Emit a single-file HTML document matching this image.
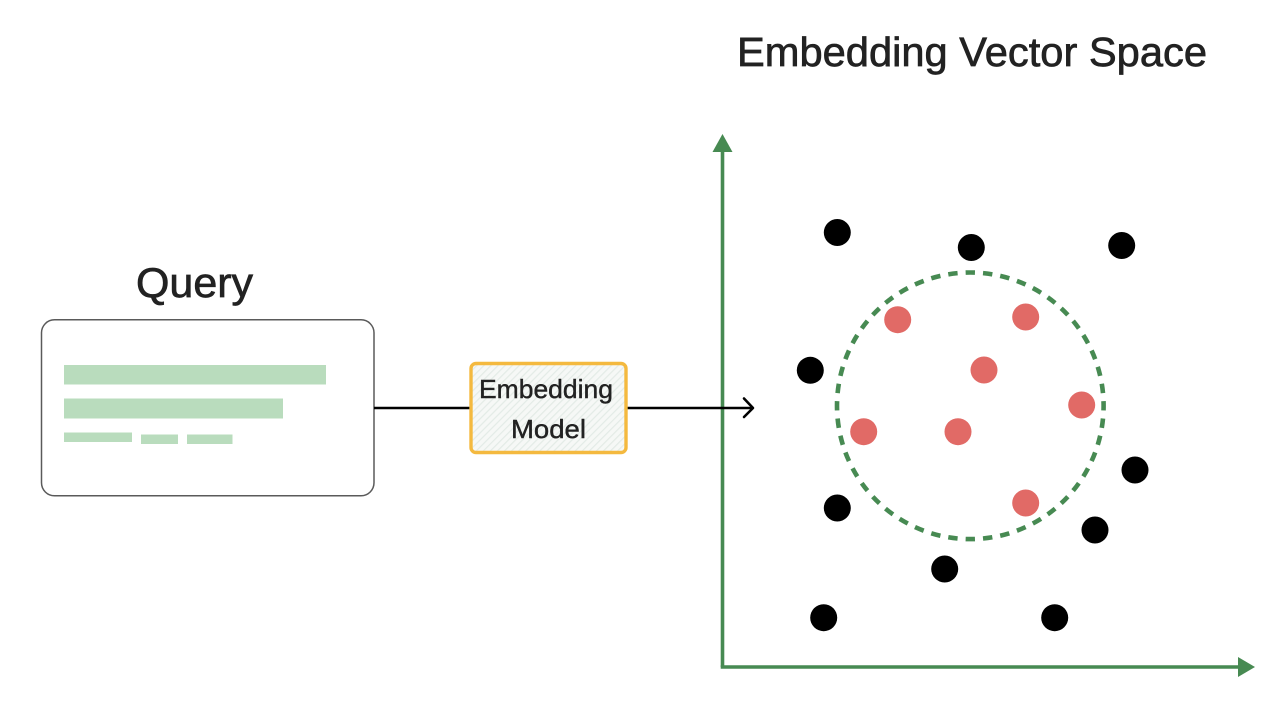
<!DOCTYPE html>
<html lang="en">
<head>
<meta charset="utf-8">
<title>Embedding Vector Space</title>
<style>
html,body{margin:0;padding:0;background:#fff;width:1276px;height:706px;overflow:hidden}
svg{display:block;filter:blur(.35px)}
text{font-family:"Liberation Sans",sans-serif;fill:#222;stroke:#222}
</style>
</head>
<body>
<svg width="1276" height="706" viewBox="0 0 1276 706" xmlns="http://www.w3.org/2000/svg">
<defs>
<pattern id="h" width="5" height="5" patternUnits="userSpaceOnUse" patternTransform="rotate(-45)">
<rect width="5" height="5" fill="#f6f8f6"/>
<rect width="5" height="1.2" fill="#e3ebe6"/>
</pattern>
</defs>

<text x="737" y="66" font-size="41" stroke-width=".7" textLength="470" lengthAdjust="spacingAndGlyphs">Embedding Vector Space</text>
<text x="136" y="297" font-size="42" stroke-width=".7" textLength="117" lengthAdjust="spacingAndGlyphs">Query</text>

<rect x="41.5" y="319.8" width="332.5" height="176" rx="13" fill="#fff" stroke="#5a5a5a" stroke-width="1.5"/>
<g fill="#b9dcbd">
<rect x="64" y="365" width="262" height="19.5"/>
<rect x="64" y="398.5" width="219" height="20"/>
<rect x="64" y="432.5" width="68" height="9.5"/>
<rect x="141" y="434.5" width="37" height="9.5"/>
<rect x="187" y="434.5" width="45.5" height="9.5"/>
</g>

<line x1="374" y1="408" x2="471" y2="408" stroke="#000" stroke-width="2.4"/>

<line x1="722.5" y1="150" x2="722.5" y2="667" stroke="#478a52" stroke-width="3.6"/>
<line x1="720.7" y1="667" x2="1240" y2="667" stroke="#478a52" stroke-width="3.6"/>
<polygon points="722.5,134 732.5,152 712.5,152" fill="#478a52"/>
<polygon points="1238,657 1255,667 1238,677" fill="#478a52"/>

<line x1="626" y1="408" x2="752" y2="408" stroke="#000" stroke-width="2.4"/>
<polyline points="744,398.5 753,408 744,417" fill="none" stroke="#000" stroke-width="2.6" stroke-linecap="round" stroke-linejoin="round"/>

<rect x="471" y="363.5" width="155" height="89" rx="5" fill="url(#h)" stroke="#f4b93f" stroke-width="3.4"/>
<text x="479" y="398" font-size="26" stroke-width=".4" textLength="134" lengthAdjust="spacingAndGlyphs">Embedding</text>
<text x="511" y="438" font-size="26" stroke-width=".4" textLength="75" lengthAdjust="spacingAndGlyphs">Model</text>

<circle cx="970.3" cy="405.8" r="133.3" fill="none" stroke="#478a52" stroke-width="4.6" pathLength="48" stroke-dasharray=".54 .46" stroke-dashoffset=".27"/>

<g fill="#000">
<circle cx="837.3" cy="232.5" r="13.5"/>
<circle cx="971.3" cy="247.5" r="13.5"/>
<circle cx="1121.7" cy="245.5" r="13.5"/>
<circle cx="810.3" cy="370.3" r="13.5"/>
<circle cx="1135" cy="470" r="13.5"/>
<circle cx="837.3" cy="508" r="13.5"/>
<circle cx="1095" cy="530" r="13.5"/>
<circle cx="944.7" cy="569" r="13.5"/>
<circle cx="823.7" cy="617.7" r="13.5"/>
<circle cx="1054.7" cy="617.7" r="13.5"/>
</g>
<g fill="#e16a66">
<circle cx="897.7" cy="319.7" r="13.5"/>
<circle cx="1025.7" cy="317" r="13.5"/>
<circle cx="984" cy="370" r="13.5"/>
<circle cx="1081.7" cy="405" r="13.5"/>
<circle cx="863.7" cy="431.7" r="13.5"/>
<circle cx="958" cy="431.7" r="13.5"/>
<circle cx="1025.7" cy="503" r="13.5"/>
</g>
</svg>
</body>
</html>
